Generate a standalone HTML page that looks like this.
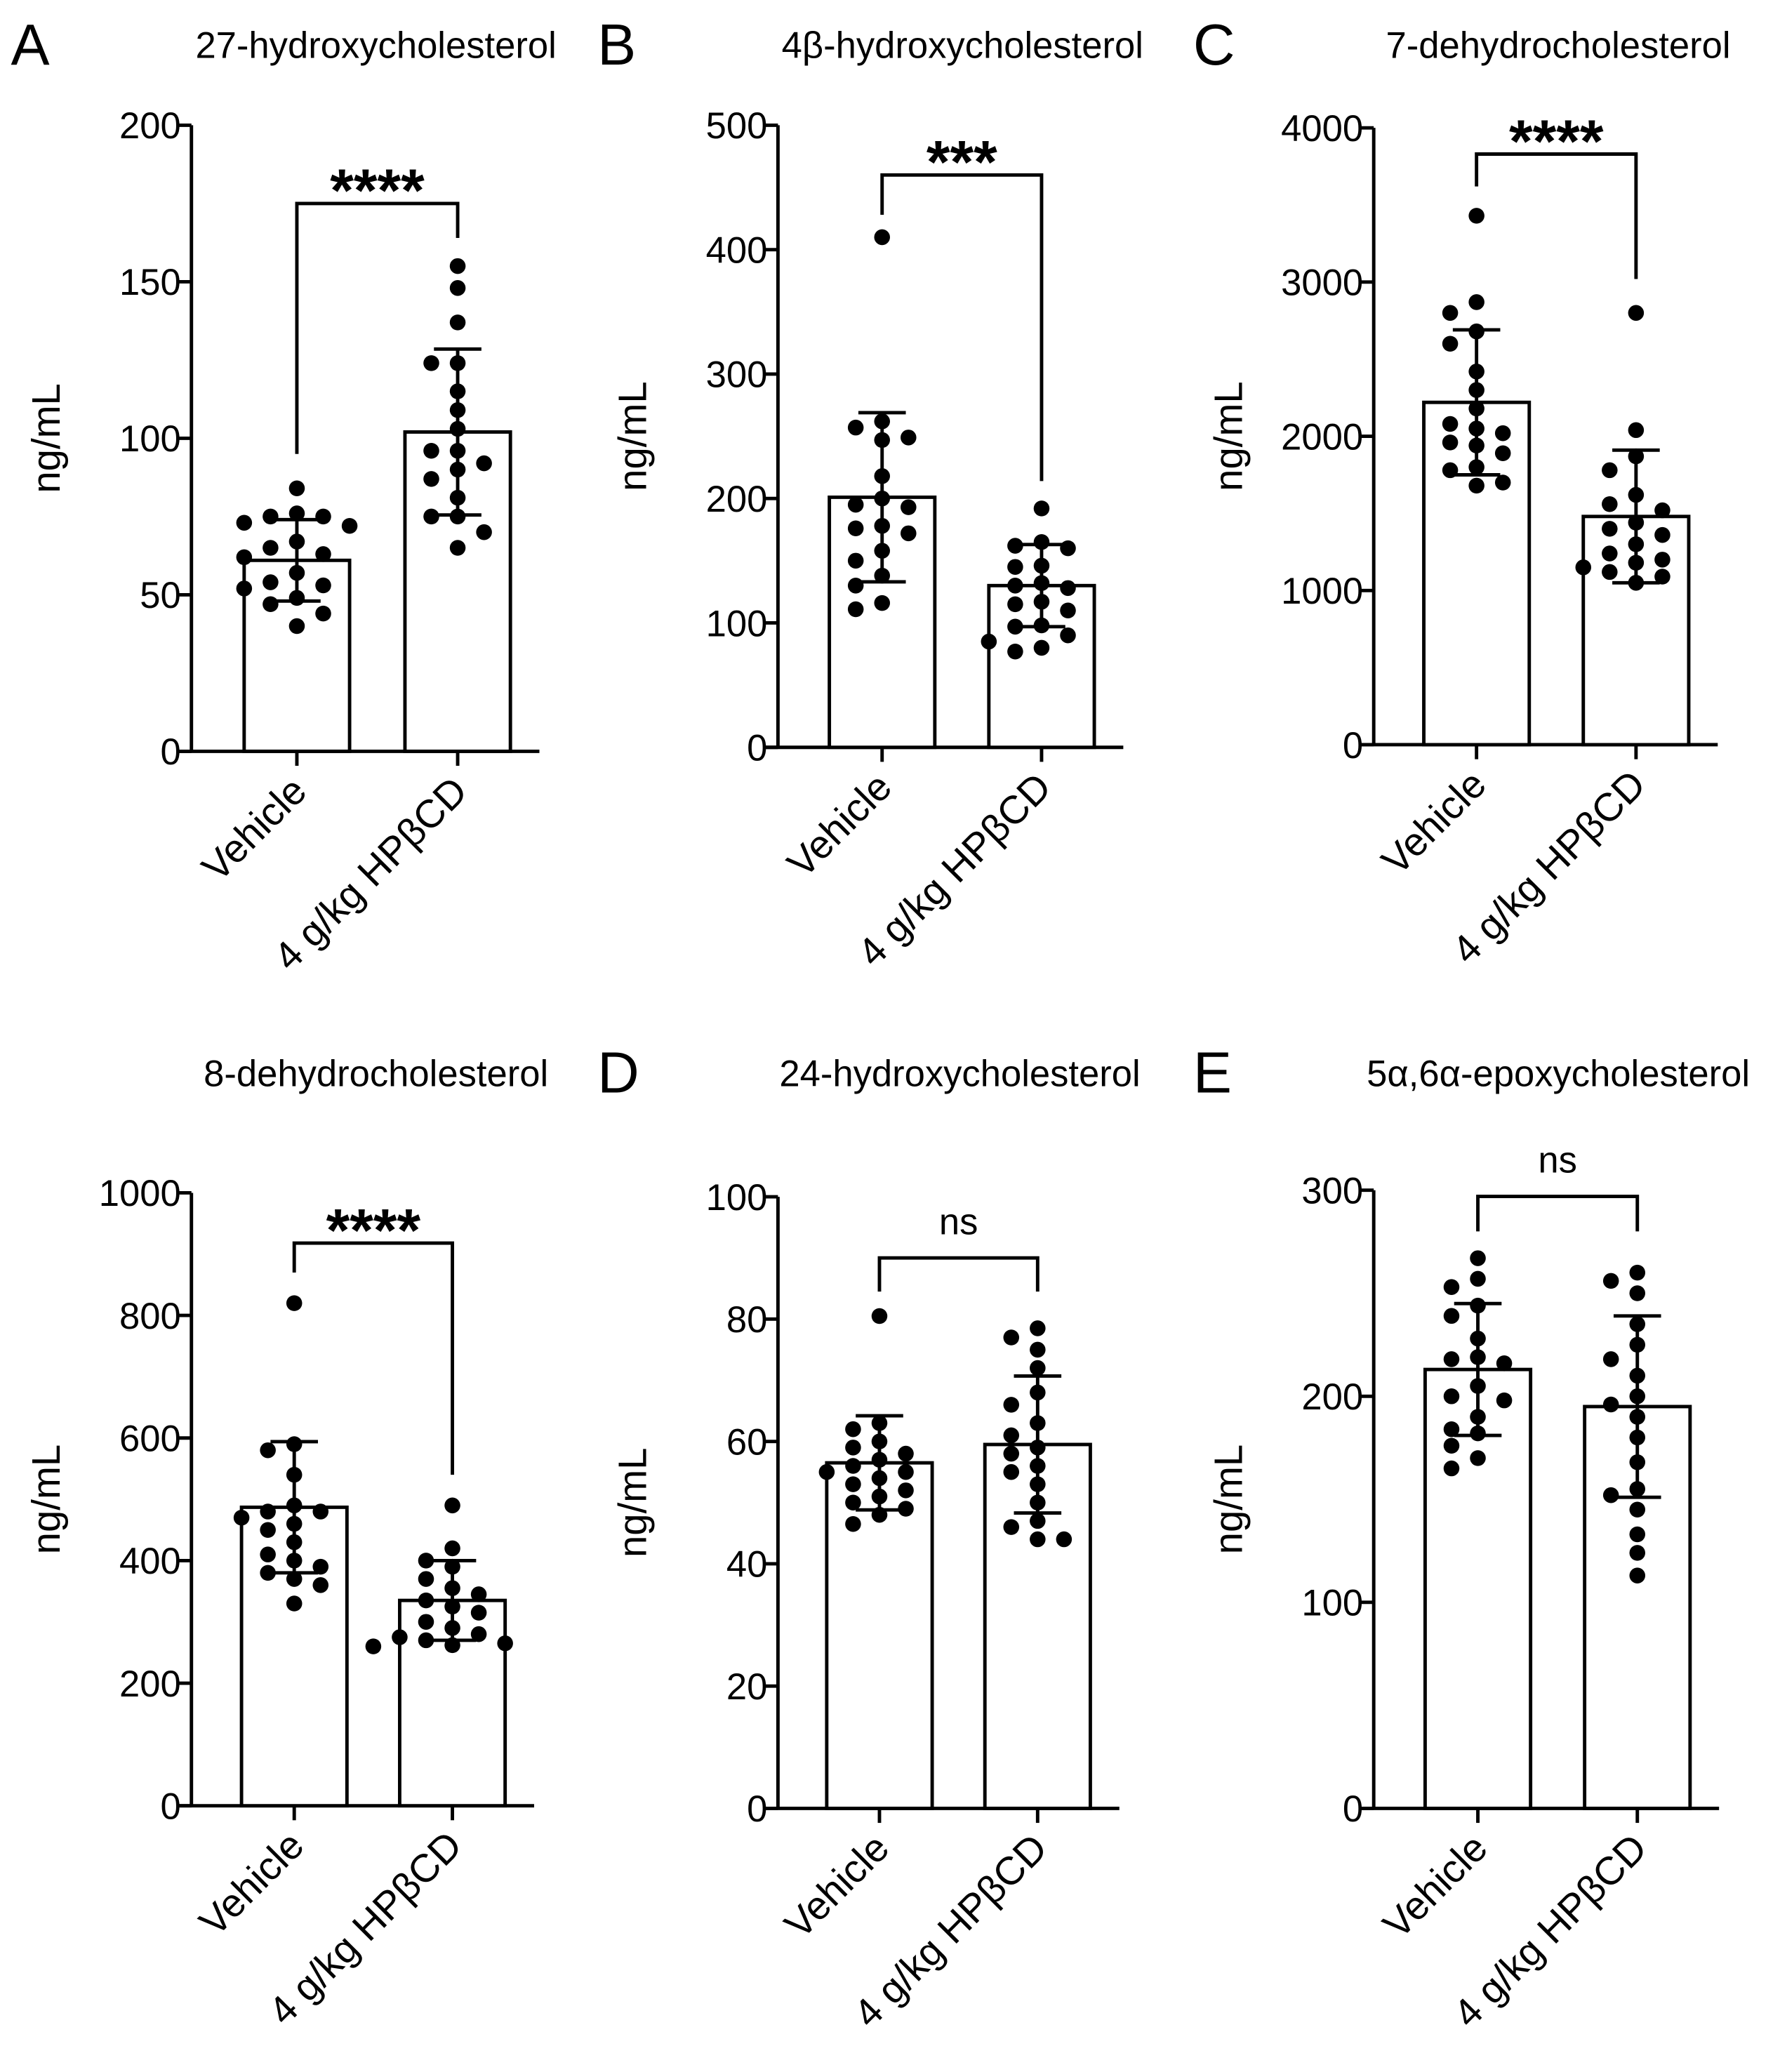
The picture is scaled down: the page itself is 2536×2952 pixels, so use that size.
<!DOCTYPE html>
<html><head><meta charset="utf-8"><style>
html,body{margin:0;padding:0;background:#fff;}
svg{display:block;font-family:"Liberation Sans",Arial,sans-serif;}
</style></head><body>
<svg id="fig" width="2536" height="2952" viewBox="0 0 1350 1572" xmlns="http://www.w3.org/2000/svg"></svg>
<script>
const categories = ["Vehicle", "4 g/kg HPβCD"];
const titles = ["27-hydroxycholesterol","4β-hydroxycholesterol","7-dehydrocholesterol","8-dehydrocholesterol","24-hydroxycholesterol","5α,6α-epoxycholesterol"];
const panelLetters = ["A","B","C","","D","E"];
const yMaxes = [200,500,4000,1000,100,300];
const yTickLabels = [[0,50,100,150,200],[0,100,200,300,400,500],[0,1000,2000,3000,4000],[0,200,400,600,800,1000],[0,20,40,60,80,100],[0,100,200,300]];
const meanValues = [[61,102],[201,130],[2220,1480],[487,335],[56.5,59.5],[213,195]];
const sdValues = [[13,26.5],[68,33],[470,430],[107,65],[7.7,11.2],[32,44]];
const sigLabels = ["****","***","****","****","ns","ns"];
const sigValues = [[95,164],[428,214],[3620,3020],[870,540],[84.5,84.5],[280,280]];
const bracketTops = [175,460,3830,918,90,297];
const points27V = [84,76,75,75,73,72,67,65,63,62,57,54,53,52,49,47,44,40];
const points27H = [155,148,137,124,124,115,109,103,96,96,92,90,87,81,75,75,70,65];
const points4bV = [410,262,257,249,247,218,200,195,193,178,176,172,158,150,138,130,116,111];
const points4bH = [192,165,162,160,146,145,132,130,128,117,115,110,98,97,90,85,80,77];
const points7V = [3430,2870,2800,2680,2600,2420,2300,2180,2080,2050,2020,1960,1940,1890,1800,1780,1700,1680];
const points7H = [2800,2040,1870,1780,1620,1560,1520,1440,1400,1360,1300,1240,1200,1180,1150,1120,1090,1050];
const points8V = [820,590,580,540,490,480,480,470,460,450,430,410,400,390,380,370,360,330];
const points8H = [490,420,400,390,370,355,345,335,325,315,300,290,280,275,270,265,262,260];
const points24V = [80.5,63,62,60,59,58,57,56,55,55,54,53,52,51,50,49,48,46.5];
const points24H = [78.5,77,75,72,68,66,63,61,59,58,56,55,53,50,47,46,44,44];
const pointsEpV = [267,257,253,244,239,228,219,218,216,205,200,198,190,184,182,176,170,165];
const pointsEpH = [260,256,250,235,225,218,210,200,196,190,180,168,155,152,145,133,124,113];
const pointSets = [[points27V,points27H],[points4bV,points4bH],[points7V,points7H],[points8V,points8H],[points24V,points24H],[pointsEpV,pointsEpH]];

const layout = [
 {ax:145,top:95,bot:570,c:[225,347],tx:285,ty:35},
 {ax:590,top:95,bot:567,c:[669,790],tx:730,ty:35},
 {ax:1042,top:97,bot:565,c:[1120,1241],tx:1182,ty:35},
 {ax:145,top:905,bot:1370,c:[223,343],tx:285,ty:815},
 {ax:590,top:908,bot:1372,c:[667,787],tx:728,ty:815},
 {ax:1042,top:903,bot:1372,c:[1121,1242],tx:1182,ty:815}
];
const NS="http://www.w3.org/2000/svg";
const svg=document.getElementById('fig');
function mk(tag,attrs,parent){const e=document.createElementNS(NS,tag);for(const k in attrs)e.setAttribute(k,attrs[k]);(parent||svg).appendChild(e);return e;}
const SW=2.6, BW=40, R=6;
layout.forEach((L,p)=>{
  const g=mk('g',{});
  
  
  const y=v=>L.bot-(v/yMaxes[p])*(L.bot-L.top);
  if(panelLetters[p]){const t=mk('text',{x:L.ax-137,y:L.ty+14,'font-size':44},g);t.textContent=panelLetters[p];
    }
  const tt=mk('text',{x:L.tx,y:L.ty+9,'font-size':28,'text-anchor':'middle'},g);tt.textContent=titles[p];
  
  const yl=mk('text',{x:0,y:0,'font-size':30,'text-anchor':'middle',transform:`translate(${L.ax-100},${(L.top+L.bot)/2}) rotate(-90)`},g);yl.textContent='ng/mL';
  
  const xEnd=L.c[1]+62;
  mk('line',{x1:L.ax,y1:L.top,x2:L.ax,y2:L.bot,stroke:'#000','stroke-width':SW},g);
  mk('line',{x1:L.ax-11,y1:L.bot,x2:xEnd,y2:L.bot,stroke:'#000','stroke-width':SW},g);
  yTickLabels[p].forEach(v=>{
    const ty=y(v);
    const tk=mk('line',{x1:L.ax-11,y1:ty,x2:L.ax,y2:ty,stroke:'#000','stroke-width':SW},g);
    
    const tl=mk('text',{x:L.ax-8,y:ty+10,'font-size':28,'text-anchor':'end'},g);tl.textContent=v;
    
  });
  categories.forEach((c,i)=>{
    const cx=L.c[i];
    mk('line',{x1:cx,y1:L.bot,x2:cx,y2:L.bot+11,stroke:'#000','stroke-width':SW},g);
    const cl=mk('text',{x:0,y:0,'font-size':30,'text-anchor':'end',transform:`translate(${cx+9},${L.bot+32}) rotate(-45)`},g);cl.textContent=c;
    
    const m=meanValues[p][i], s=sdValues[p][i];
    const bar=mk('rect',{x:cx-BW,y:y(m),width:2*BW,height:L.bot-y(m),fill:'#fff',stroke:'#000','stroke-width':SW},g);
    
    const pts=pointSets[p][i]; const placed=[];
    pts.forEach(v=>{
      const py=y(v); let off=0;
      const cand=[0,-20,20,-40,40,-60,60];
      for(const o of cand){ if(placed.every(q=>Math.hypot(q[0]-o,q[1]-py)>=12.5)){off=o;break;} }
      placed.push([off,py]);
      const d=mk('circle',{cx:cx+off,cy:py,r:R,fill:'#000'},g);
      
    });
    const eb=mk('path',{d:`M${cx},${y(m-s)}V${y(m+s)}M${cx-18},${y(m+s)}H${cx+18}M${cx-18},${y(m-s)}H${cx+18}`,stroke:'#000','stroke-width':SW,fill:'none'},g);
    
  });
  const bt=y(bracketTops[p]);
  const br=mk('path',{d:`M${L.c[0]},${y(sigValues[p][0])}V${bt}H${L.c[1]}V${y(sigValues[p][1])}`,stroke:'#000','stroke-width':SW,fill:'none'},g);
  
  const isNs=sigLabels[p]==='ns';
  const st=mk('text',{x:(L.c[0]+L.c[1])/2,y:bt-(isNs?18:-6),'font-size':isNs?28:46,'font-weight':isNs?'normal':'bold','text-anchor':'middle'},g);
  st.textContent=sigLabels[p];
  
});
</script>
</body></html>
